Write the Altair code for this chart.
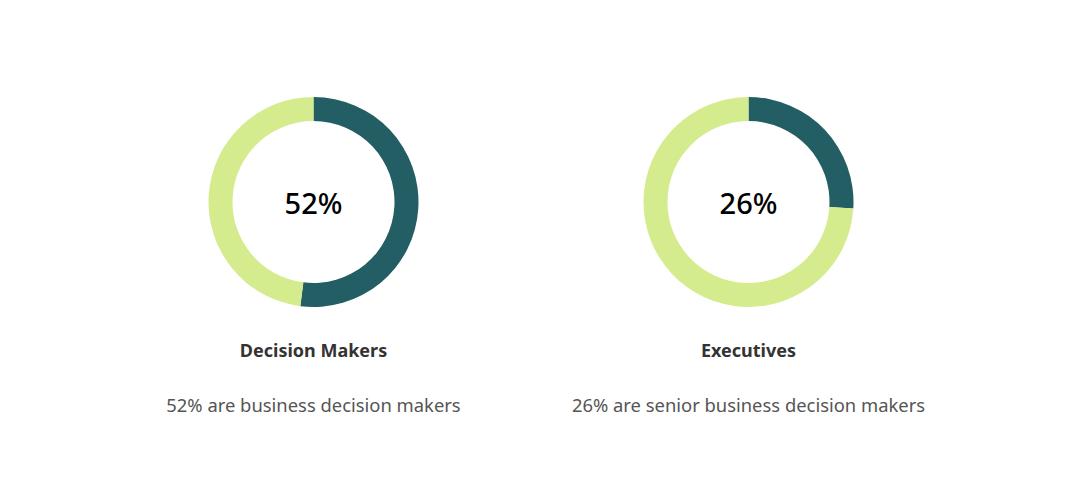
import altair as alt
import pandas as pd

titles = ["Decision Makers", "Executives"]
percents = [52, 26]
subtitles = ["52% are business decision makers", "26% are senior business decision makers"]
segments = ["share", "rest"]
colors = ["#225E63", "#D5EC8E"]

FONT = "Noto Sans"
W, H = 435, 470
CY = 189

def panel(i):
    p = percents[i]
    seg = pd.DataFrame({"segment": segments, "value": [p, 100 - p], "order": [0, 1]})
    arc = alt.Chart(seg).mark_arc(innerRadius=81, outerRadius=105).encode(
        theta=alt.Theta("value:Q", stack=True),
        order=alt.Order("order:Q"),
        color=alt.Color("segment:N", scale=alt.Scale(domain=segments, range=colors), legend=None),
        x=alt.value(W / 2), y=alt.value(CY),
    )
    lab = pd.DataFrame({"center": [f"{p}%"], "title": [titles[i]], "sub": [subtitles[i]]})
    base = alt.Chart(lab)
    center = base.mark_text(font=FONT, fontSize=29, fontWeight=500, color="#000000", baseline="middle").encode(
        text="center:N", x=alt.value(W / 2), y=alt.value(CY + 3))
    title = base.mark_text(font=FONT, fontSize=18, fontWeight="bold", color="#333333", baseline="middle").encode(
        text="title:N", x=alt.value(W / 2), y=alt.value(339))
    sub = base.mark_text(font=FONT, fontSize=18.4, color="#555555", baseline="middle").encode(
        text="sub:N", x=alt.value(W / 2), y=alt.value(393))
    return alt.layer(arc, center, title, sub).properties(width=W, height=H)

chart = alt.hconcat(panel(0), panel(1), spacing=0).properties(
    padding={"left": 88, "top": 5, "right": 0, "bottom": 0}
).configure(background="#ffffff").configure_view(strokeWidth=0, stroke=None)

chart.save("out.html", embed_options={"renderer": "svg", "actions": False})
